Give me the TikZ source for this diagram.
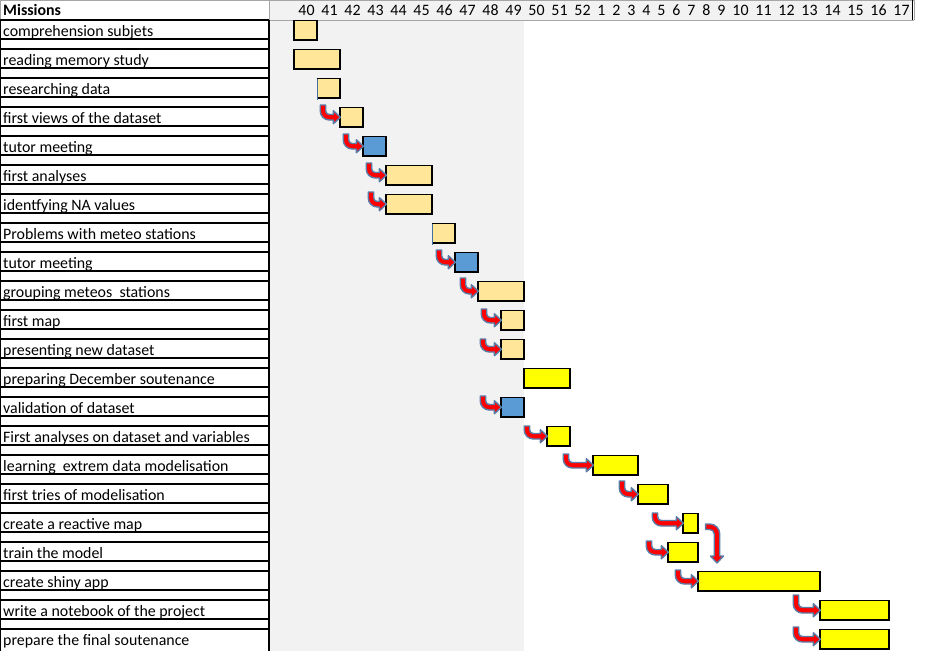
\documentclass[tikz,border=0pt]{standalone}
\usepackage{fontspec}
\setmainfont{Carlito}
\usetikzlibrary{calc}
\definecolor{orangebar}{HTML}{FFE699}
\definecolor{bluebar}{HTML}{5B9BD5}
\definecolor{yellowbar}{HTML}{FFFF00}
\definecolor{bgshade}{HTML}{F2F2F2}
\definecolor{gridgray}{HTML}{A6A6A6}
\definecolor{arrowedge}{HTML}{5A7DA8}
\definecolor{edgeblue}{HTML}{41719C}
\tikzset{
  barbox/.style={rectangle, draw=black, line width=1.2pt, inner sep=0pt, minimum height=19.5pt},
  ob/.style={fill=orangebar}, bb/.style={fill=bluebar}, yb/.style={fill=yellowbar},
  openleft/.style={draw=none, outer sep=0pt},
  tasklabel/.style={font=\fontsize{15.9}{18}\selectfont, inner sep=0pt, anchor=base west},
  weeklabel/.style={font=\fontsize{15.9}{18}\selectfont, inner sep=0pt, anchor=base},
  rowline/.style={line width=1.8pt, black},
  arrowbody/.style={fill=red, draw=arrowedge, line width=1.4pt, line join=round},
}
% bar: name, row, left, right, style
\newcommand\taskbar[5]{%
  \pgfmathsetmacro\bw{#4-#3}\pgfmathsetmacro\bx{(#3+#4)/2}\pgfmathsetmacro\by{30.25+29*#2}%
  \node[barbox,#5,minimum width=\bw pt] (#1) at (\bx,\by) {};}
% bent arrow: start coordinate -> target node (down then right)
\newcommand\bentarrow[2]{%
  \path[arrowbody] let \p1=(#1), \p2=(#2.west) in
  ({\x1-2.75pt},{\y1}) -- ({\x1-2.75pt},{\y2-2.75pt+9pt})
  .. controls ({\x1-2.75pt},{\y2-2.75pt+4.03pt}) and ({\x1-2.75pt+4.03pt},{\y2-2.75pt}) .. ({\x1-2.75pt+9pt},{\y2-2.75pt})
  -- ({\x2+1pt-7pt},{\y2-2.75pt}) -- ({\x2+1pt-7pt},{\y2-6.5pt}) -- ({\x2+1pt},{\y2}) -- ({\x2+1pt-7pt},{\y2+6.5pt}) -- ({\x2+1pt-7pt},{\y2+2.75pt})
  -- ({\x1-2.75pt+9pt},{\y2+2.75pt})
  .. controls ({\x1-2.75pt+9pt-1.93pt},{\y2+2.75pt}) and ({\x1+2.75pt},{\y2-2.75pt+9pt-1.93pt}) .. ({\x1+2.75pt},{\y2-2.75pt+9pt})
  -- ({\x1+2.75pt},{\y1}) -- cycle;}
\begin{document}
\begin{tikzpicture}[x=1pt,y=-1pt]
\useasboundingbox (0,0) rectangle (935,651);
\fill[white] (0,0) rectangle (935,651);
% shaded areas
\fill[bgshade] (269,0) rectangle (912,20);
\fill[bgshade] (269,20) rectangle (524,651);
% header borders
\draw[gridgray, line width=0.8pt] (0,0.4) -- (914,0.4);
\draw[gridgray, line width=0.8pt] (269,20) -- (914,20);
\draw[gridgray, line width=0.8pt] (914,0) -- (914,20);
\draw[black, line width=1pt] (912,0) -- (912,20);
\draw[gridgray, line width=0.8pt] (269,0) -- (269,20);
\draw[gridgray, line width=0.8pt] (0.4,0) -- (0.4,20);
% left column rules
\draw[black, line width=1pt] (0.5,20) -- (0.5,651);
\draw[black, line width=1.6pt] (269,20) -- (269,651);
\foreach \k in {0,...,21} \draw[rowline] (0,{20+29*\k}) -- (269,{20+29*\k});
\foreach \k in {0,...,20} \draw[rowline] (0,{39+29*\k}) -- (269,{39+29*\k});
% header texts
\node[tasklabel, font=\fontsize{15.9}{18}\selectfont\bfseries] (missions) at (3,15) {Missions};
\foreach \w/\cx in {40/306.5,41/329.5,42/352.5,43/375.5,44/398.5,45/421.5,46/444.5,47/467.5,48/490.5,49/513.5,50/536.5,51/559.5,52/582.5,1/601.5,2/616.5,3/631.5,4/646.5,5/661.5,6/676.5,7/691.5,8/706.5,9/721.5,10/740.5,11/763.5,12/786.5,13/809.5,14/832.5,15/855.5,16/878.5,17/901.5}
  \node[weeklabel] (w\w) at (\cx,15) {\w};
% task names
\foreach \t [count=\k from 0] in {comprehension subjets, reading memory study, researching data, first views of the dataset, tutor meeting, first analyses, identfying NA values, Problems with meteo stations, tutor meeting, grouping meteos\ \ stations, first map, presenting new dataset, preparing December soutenance, validation of dataset, First analyses on dataset and variables, learning\ \ extrem data modelisation, first tries of modelisation, create a reactive map, train the model, create shiny app, write a notebook of the project, prepare the final soutenance}
  \node[tasklabel] (t\k) at (3,{36+29*\k}) {\t};
% bars
\taskbar{b0}{0}{294}{317}{ob}
\taskbar{b1}{1}{294}{340}{ob}
\taskbar{b2}{2}{317}{340}{ob,openleft}
\taskbar{b3}{3}{340}{363}{ob}
\taskbar{b4}{4}{363}{386}{bb}
\taskbar{b5}{5}{386}{432}{ob}
\taskbar{b6}{6}{386}{432}{ob}
\taskbar{b7}{7}{432}{455}{ob,openleft}
\taskbar{b8}{8}{455}{478}{bb}
\taskbar{b9}{9}{478}{524}{ob}
\taskbar{b10}{10}{501}{524}{ob}
\taskbar{b11}{11}{501}{524}{ob}
\taskbar{b12}{12}{524}{570}{yb}
\taskbar{b13}{13}{501}{524}{bb}
\taskbar{b14}{14}{547}{570}{yb}
\taskbar{b15}{15}{593}{638}{yb}
\taskbar{b16}{16}{638}{668}{yb}
\taskbar{b17}{17}{683}{698}{yb}
\taskbar{b18}{18}{668}{698}{yb}
\taskbar{b19}{19}{698}{820}{yb}
\taskbar{b20}{20}{820}{889}{yb}
\taskbar{b21}{21}{820}{889}{yb}
\draw[black, line width=1.2pt] (b2.north west) -- (b2.north east) -- (b2.south east) -- (b2.south west);
\draw[edgeblue, line width=0.9pt] (b2.north west) -- ([yshift=-2pt]b2.south west);
\draw[black, line width=1.2pt] (b7.north west) -- (b7.north east) -- (b7.south east) -- (b7.south west);
\draw[edgeblue, line width=0.9pt] (b7.north west) -- ([yshift=-2pt]b7.south west);
% arrow start points
\coordinate (a3) at (323,105);
\coordinate (a4) at (346,134);
\coordinate (a5) at (369,163);
\coordinate (a6) at (371,192);
\coordinate (a8) at (439,250);
\coordinate (a9) at (463,278);
\coordinate (a10) at (484,309);
\coordinate (a11) at (483,339);
\coordinate (a13) at (483,396);
\coordinate (a14) at (527,426);
\coordinate (a15) at (566,454);
\coordinate (a16) at (622,481);
\coordinate (a17) at (655,513);
\coordinate (a18) at (649,541);
\coordinate (a19) at (678,570);
\coordinate (a20) at (796,595);
\coordinate (a21) at (796,627);
\bentarrow{a3}{b3}
\bentarrow{a4}{b4}
\bentarrow{a5}{b5}
\bentarrow{a6}{b6}
\bentarrow{a8}{b8}
\bentarrow{a9}{b9}
\bentarrow{a10}{b10}
\bentarrow{a11}{b11}
\bentarrow{a13}{b13}
\bentarrow{a14}{b14}
\bentarrow{a15}{b15}
\bentarrow{a16}{b16}
\bentarrow{a17}{b17}
\bentarrow{a18}{b18}
\bentarrow{a19}{b19}
\bentarrow{a20}{b20}
\bentarrow{a21}{b21}
% right then down arrow
\coordinate (vs) at ([xshift=7pt,yshift=-3.5pt]b17.east);
\coordinate (vt) at (717,563);
\path[arrowbody] let \p1=(vs), \p2=(vt) in
  ({\x1},{\y1+2.75pt}) -- ({\x2+2.75pt-10pt},{\y1+2.75pt})
  .. controls ({\x2+2.75pt-4.48pt},{\y1+2.75pt}) and ({\x2+2.75pt},{\y1+2.75pt-4.48pt}) .. ({\x2+2.75pt},{\y1+2.75pt-10pt})
  -- ({\x2+2.75pt},{\y2+7pt}) -- ({\x2+6.5pt},{\y2+7pt}) -- ({\x2},{\y2}) -- ({\x2-6.5pt},{\y2+7pt}) -- ({\x2-2.75pt},{\y2+7pt})
  -- ({\x2-2.75pt},{\y1+2.75pt-10pt})
  .. controls ({\x2-2.75pt},{\y1+2.75pt-10pt+2.48pt}) and ({\x2+2.75pt-10pt+2.48pt},{\y1-2.75pt}) .. ({\x2+2.75pt-10pt},{\y1-2.75pt})
  -- ({\x1},{\y1-2.75pt}) -- cycle;
\end{tikzpicture}
\end{document}
